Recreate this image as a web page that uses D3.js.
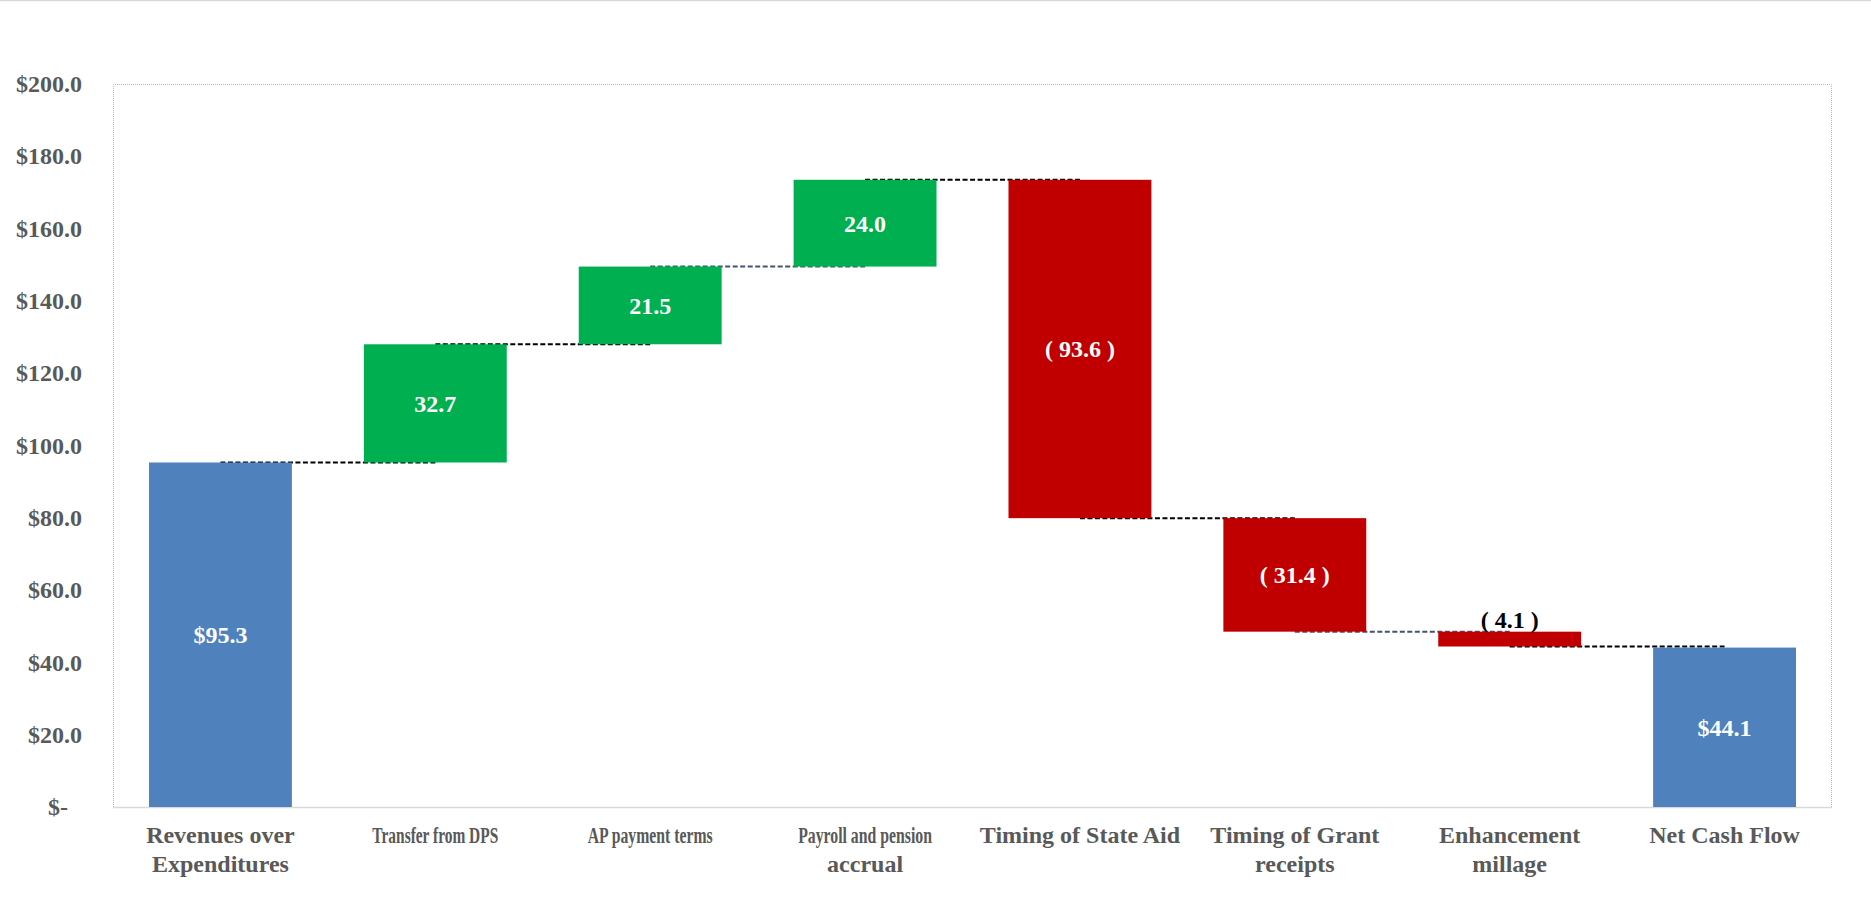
<!DOCTYPE html>
<html>
<head>
<meta charset="utf-8">
<script src="https://cdn.jsdelivr.net/npm/d3@7"></script>
<style>
  body { margin: 0; background: #fff; }
  svg text { font-family: "Liberation Serif", "DejaVu Serif", serif; font-weight: bold; }
</style>
</head>
<body>
<svg id="chart"></svg>
<script>
// chart values
var categories = ["Revenues over Expenditures", "Transfer from DPS", "AP payment terms",
  "Payroll and pension accrual", "Timing of State Aid", "Timing of Grant receipts",
  "Enhancement millage", "Net Cash Flow"];
var tickLines = [["Revenues over", "Expenditures"], ["Transfer from DPS"], ["AP payment terms"],
  ["Payroll and pension", "accrual"], ["Timing of State Aid"], ["Timing of Grant", "receipts"],
  ["Enhancement", "millage"], ["Net Cash Flow"]];
var values = [95.3, 32.7, 21.5, 24.0, -93.6, -31.4, -4.1, 44.1];
var kinds = ["total", "delta", "delta", "delta", "delta", "delta", "delta", "total"];
var yTicks = [0, 20, 40, 60, 80, 100, 120, 140, 160, 180, 200];

var W = 1871, H = 909;
var margin = {top: 84, right: 39, bottom: 102, left: 113},
    width = W - margin.left - margin.right,
    height = H - margin.top - margin.bottom;

var svg = d3.select("#chart").attr("width", W).attr("height", H);

// thin frame line along the top edge
svg.append("line")
    .attr("x1", 0).attr("x2", W).attr("y1", 0.5).attr("y2", 0.5)
    .attr("stroke", "#d9d9d9").attr("stroke-width", 1.5);

var g = svg.append("g")
    .attr("transform", "translate(" + margin.left + "," + margin.top + ")");

var x = d3.scaleBand().domain(categories).range([0, width])
    .paddingInner(0.335).paddingOuter(0.1675);
var y = d3.scaleLinear().domain([0, 200]).range([height, 0]);

// running totals
var running = 0;
var bars = values.map(function(v, i) {
  var d = {cat: categories[i], value: v, kind: kinds[i]};
  if (kinds[i] === "total") { d.start = 0; d.end = v; running = v; }
  else { d.start = running; d.end = running + v; running = d.end; }
  return d;
});

// plot area border (dotted light blue)
g.append("path")
    .attr("d", "M0.5," + height + "V0.5H" + (width - 0.5) + "V" + height)
    .attr("fill", "none")
    .attr("stroke", "#9dbde6")
    .attr("stroke-width", 1)
    .attr("stroke-dasharray", "1,1");

// bottom axis line
g.append("line")
    .attr("x1", 0).attr("x2", width)
    .attr("y1", height + 0.5).attr("y2", height + 0.5)
    .attr("stroke", "#d9d9d9").attr("stroke-width", 1.5);

// y axis labels
var yAxis = g.append("g")
    .call(d3.axisLeft(y).tickValues(yTicks).tickSize(0).tickPadding(31)
      .tickFormat(function(d) { return d === 0 ? "$-" : "$" + d3.format(".1f")(d); }));
yAxis.select(".domain").remove();
yAxis.selectAll("text")
    .attr("fill", "#595959")
    .style("font-size", "24px")
    .attr("dx", function(d) { return d === 0 ? -14 : 0; });

// x axis labels (a few are squeezed horizontally like in the original)
var xAxis = g.append("g")
    .attr("transform", "translate(0," + height + ")")
    .call(d3.axisBottom(x).tickSize(0).tickFormat(""));
xAxis.select(".domain").remove();
var squeezed = {"Transfer from DPS": 126, "AP payment terms": 125, "Payroll and pension": 134};
xAxis.selectAll(".tick").each(function(d, i) {
  var tick = d3.select(this);
  tickLines[i].forEach(function(line, j) {
    var t = tick.append("text")
        .attr("fill", "#595959")
        .attr("text-anchor", "middle")
        .attr("y", 36 + j * 29)
        .style("font-size", "24px")
        .text(line);
    if (squeezed[line]) {
      var k = squeezed[line] / t.node().getComputedTextLength();
      t.attr("transform", "scale(" + k + ",1)");
    }
  });
});

// connectors between bars
var connColors = ["#000", "#000", "#44546a", "#000", "#000", "#44546a", "#000"];
g.selectAll(".conn")
  .data(bars.slice(0, -1))
  .enter().append("line")
    .attr("class", "conn")
    .attr("x1", function(d) { return x(d.cat) + x.bandwidth() / 2; })
    .attr("x2", function(d, i) { return x(categories[i + 1]) + x.bandwidth() / 2; })
    .attr("y1", function(d) { return y(d.end); })
    .attr("y2", function(d) { return y(d.end); })
    .attr("stroke", function(d, i) { return connColors[i]; })
    .attr("stroke-width", 2)
    .attr("stroke-dasharray", "5,2.5");

function barColor(d) {
  if (d.kind === "total") return "#4f81bd";
  return d.value >= 0 ? "#00b050" : "#c00000";
}

g.selectAll(".bar")
  .data(bars)
  .enter().append("rect")
    .attr("class", "bar")
    .attr("x", function(d) { return x(d.cat); })
    .attr("y", function(d) { return y(Math.max(d.start, d.end)); })
    .attr("width", x.bandwidth())
    .attr("height", function(d) { return Math.abs(y(d.start) - y(d.end)); })
    .attr("fill", barColor);

function labelText(d) {
  if (d.kind === "total") return "$" + d3.format(".1f")(d.value);
  if (d.value < 0) return "( " + d3.format(".1f")(-d.value) + " )";
  return d3.format(".1f")(d.value);
}

g.selectAll(".val")
  .data(bars)
  .enter().append("text")
    .attr("class", "val")
    .attr("x", function(d) { return x(d.cat) + x.bandwidth() / 2; })
    .attr("y", function(d) {
      var top = y(Math.max(d.start, d.end)), bot = y(Math.min(d.start, d.end));
      if (bot - top < 30) return top - 4;
      return (top + bot) / 2;
    })
    .attr("dy", function(d) {
      var h = Math.abs(y(d.start) - y(d.end));
      return h < 30 ? "0" : "0.35em";
    })
    .attr("text-anchor", "middle")
    .attr("fill", function(d) { return Math.abs(y(d.start) - y(d.end)) < 30 ? "#000" : "#fff"; })
    .style("font-size", "24px")
    .text(labelText);
</script>
</body>
</html>
